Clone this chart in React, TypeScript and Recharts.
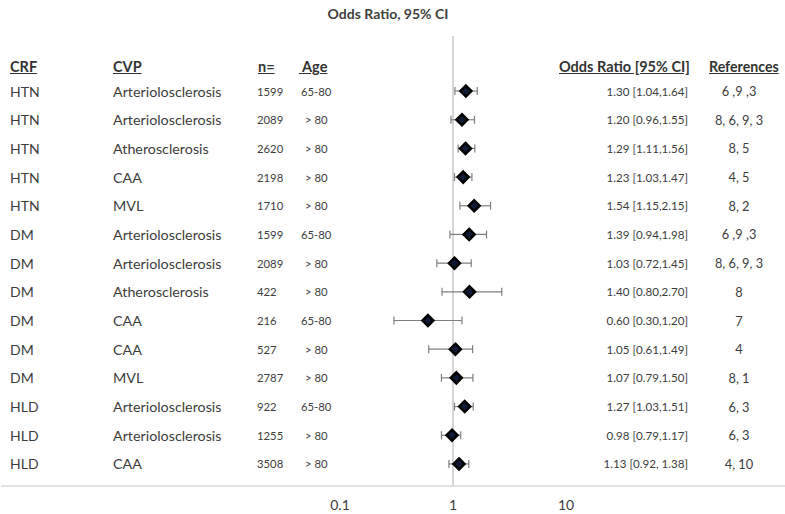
import React from 'react';
import { ComposedChart, Scatter, ErrorBar, XAxis, YAxis, ReferenceLine } from 'recharts';

const FONT = 'Lato, "Open Sans", sans-serif';
const TEXT = '#3d3d3d';

const CRF = ['HTN', 'HTN', 'HTN', 'HTN', 'HTN', 'DM', 'DM', 'DM', 'DM', 'DM', 'DM', 'HLD', 'HLD', 'HLD'];
const CVP = [
  'Arteriolosclerosis', 'Arteriolosclerosis', 'Atherosclerosis', 'CAA', 'MVL',
  'Arteriolosclerosis', 'Arteriolosclerosis', 'Atherosclerosis', 'CAA', 'CAA', 'MVL',
  'Arteriolosclerosis', 'Arteriolosclerosis', 'CAA',
];
const N = [1599, 2089, 2620, 2198, 1710, 1599, 2089, 422, 216, 527, 2787, 922, 1255, 3508];
const AGE = ['65-80', '> 80', '> 80', '> 80', '> 80', '65-80', '> 80', '> 80', '65-80', '> 80', '> 80', '65-80', '> 80', '> 80'];
const OR = [1.3, 1.2, 1.29, 1.23, 1.54, 1.39, 1.03, 1.4, 0.6, 1.05, 1.07, 1.27, 0.98, 1.13];
const LOW = [1.04, 0.96, 1.11, 1.03, 1.15, 0.94, 0.72, 0.8, 0.3, 0.61, 0.79, 1.03, 0.79, 0.92];
const HIGH = [1.64, 1.55, 1.56, 1.47, 2.15, 1.98, 1.45, 2.7, 1.2, 1.49, 1.5, 1.51, 1.17, 1.38];
const OR_LABELS = [
  '1.30 [1.04,1.64]', '1.20 [0.96,1.55]', '1.29 [1.11,1.56]', '1.23 [1.03,1.47]', '1.54 [1.15,2.15]',
  '1.39 [0.94,1.98]', '1.03 [0.72,1.45]', '1.40 [0.80,2.70]', '0.60 [0.30,1.20]', '1.05 [0.61,1.49]',
  '1.07 [0.79,1.50]', '1.27 [1.03,1.51]', '0.98 [0.79,1.17]', '1.13 [0.92, 1.38]',
];
const REFS = ['6 ,9 ,3', '8, 6, 9, 3', '8, 5', '4, 5', '8, 2', '6 ,9 ,3', '8, 6, 9, 3', '8', '7', '4', '8, 1', '6, 3', '6, 3', '4, 10'];
const X_TICKS = [0.1, 1, 10];

const data = OR.map((v, i) => ({
  row: i,
  or: v,
  err: [v - LOW[i], HIGH[i] - v],
}));
const ROWS = data.map(d => d.row);

const Diamond = (props: any) => {
  const { cx, cy } = props;
  const r = 5.5;
  return (
    <polygon
      points={`${cx},${cy - r} ${cx + r},${cy} ${cx},${cy + r} ${cx - r},${cy}`}
      fill="#101a38"
      stroke="#000"
      strokeWidth={2.5}
      strokeLinejoin="miter"
    />
  );
};

const RowTick = (props: any) => {
  const { y, payload } = props;
  const i = payload.value;
  const common = { y, dominantBaseline: 'central' as const, fill: TEXT, fontFamily: FONT };
  return (
    <g>
      <text x={10} fontSize={14} {...common}>{CRF[i]}</text>
      <text x={113} fontSize={14.3} {...common}>{CVP[i]}</text>
      <text x={257} fontSize={11.3} {...common}>{N[i]}</text>
      <text x={AGE[i] === '> 80' ? 305 : 301} fontSize={11.3} {...common}>{AGE[i]}</text>
      <text x={688} fontSize={11.6} textAnchor="end" {...common}>{OR_LABELS[i]}</text>
      <text x={739} fontSize={12.8} textAnchor="middle" {...common}>{REFS[i]}</text>
    </g>
  );
};

const headStyle: React.CSSProperties = {
  position: 'absolute',
  top: 57,
  height: 20,
  lineHeight: '20px',
  fontSize: 14.5,
  fontWeight: 700,
  textDecoration: 'underline',
  color: '#333',
  whiteSpace: 'pre',
};

export default function App() {
  return (
    <div style={{ position: 'absolute', left: 0, top: 0, width: 785, height: 514, background: '#fff', fontFamily: FONT }}>
      <div style={{ position: 'absolute', top: 4, left: 0, width: 776, textAlign: 'center', fontSize: 14, fontWeight: 700, color: '#404040', lineHeight: '20px' }}>
        Odds Ratio, 95% CI
      </div>
      <div style={{ ...headStyle, left: 10 }}>CRF</div>
      <div style={{ ...headStyle, left: 113 }}>CVP</div>
      <div style={{ ...headStyle, left: 258 }}>n=</div>
      <div style={{ ...headStyle, left: 299 }}>{' Age'}</div>
      <div style={{ ...headStyle, left: 559 }}>Odds Ratio [95% CI]</div>
      <div style={{ ...headStyle, left: 709, fontSize: 14.2 }}>References</div>
      <ComposedChart width={785} height={514} data={data} margin={{ top: 36, right: 0, bottom: 0, left: 0 }}>
        <XAxis
          type="number"
          dataKey="or"
          scale="log"
          domain={[0.0001, 867]}
          allowDataOverflow
          ticks={X_TICKS}
          tickFormatter={(v: number) => String(v)}
          height={28}
          tickLine={false}
          tickMargin={8}
          axisLine={{ stroke: '#d9d9d9', strokeWidth: 1.5 }}
          tick={{ fill: TEXT, fontSize: 14, fontFamily: FONT }}
        />
        <YAxis
          type="number"
          dataKey="row"
          domain={[-1.92, 13.77]}
          reversed
          allowDataOverflow
          ticks={ROWS}
          interval={0}
          width={1}
          axisLine={false}
          tickLine={false}
          tick={(p: any) => <RowTick {...p} />}
        />
        <ReferenceLine x={1} stroke="#c8c8c8" strokeWidth={1.5} />
        <Scatter dataKey="or" shape={<Diamond />} isAnimationActive={false}>
          <ErrorBar dataKey="err" direction="x" width={4} stroke="#7f7f7f" strokeWidth={1.2} />
        </Scatter>
      </ComposedChart>
    </div>
  );
}
